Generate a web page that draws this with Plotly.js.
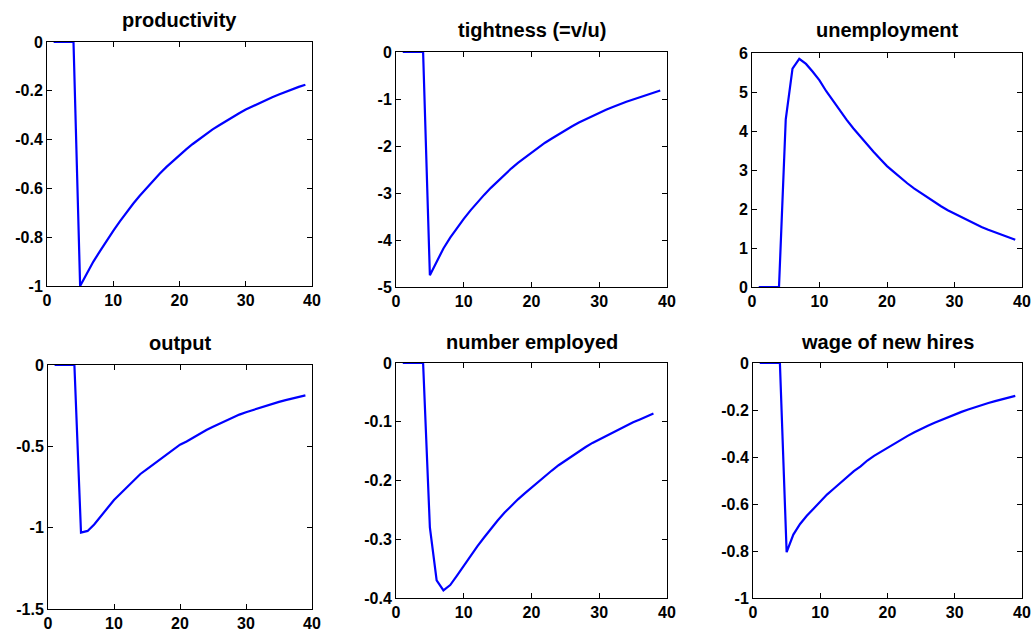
<!DOCTYPE html>
<html><head><meta charset="utf-8">
<script src="https://cdn.plot.ly/plotly-3.0.1.min.js"></script>
<style>html,body{margin:0;padding:0;background:#fff}#chart{width:1032px;height:633px}</style>
</head><body><div id="chart"></div>
<script>
const periods = [1,2,3,4,5,6,7,8,9,10,11,12,13,14,15,16,17,18,19,20,21,22,23,24,25,26,27,28,29,30,31,32,33,34,35,36,37,38,39];

const productivity = [0,0,0,0,-1.00,-0.95,-0.90,-0.857,-0.814,-0.774,-0.735,-0.698,-0.663,-0.630,-0.599,-0.569,-0.540,-0.513,-0.488,-0.463,-0.440,-0.418,-0.397,-0.377,-0.358,-0.341,-0.324,-0.307,-0.292,-0.277,-0.264,-0.250,-0.238,-0.226,-0.215,-0.204,-0.194,-0.184,-0.175];

const tightness = [0,0,0,0,-4.75,-4.45,-4.18,-3.95,-3.74,-3.55,-3.37,-3.20,-3.04,-2.89,-2.75,-2.61,-2.48,-2.36,-2.25,-2.14,-2.03,-1.93,-1.84,-1.75,-1.66,-1.58,-1.50,-1.43,-1.36,-1.29,-1.23,-1.17,-1.11,-1.06,-1.01,-0.96,-0.91,-0.87,-0.82];

const unemployment = [0,0,0,0,4.30,5.60,5.85,5.72,5.52,5.30,5.02,4.77,4.52,4.29,4.07,3.86,3.66,3.47,3.28,3.10,2.95,2.80,2.66,2.53,2.41,2.29,2.18,2.07,1.97,1.88,1.79,1.70,1.62,1.54,1.47,1.40,1.33,1.27,1.21];

const output = [0,0,0,0,-1.03,-1.02,-0.98,-0.93,-0.88,-0.83,-0.79,-0.75,-0.71,-0.67,-0.64,-0.61,-0.58,-0.55,-0.52,-0.49,-0.47,-0.445,-0.42,-0.40,-0.38,-0.36,-0.34,-0.325,-0.305,-0.29,-0.277,-0.263,-0.25,-0.238,-0.227,-0.216,-0.206,-0.196,-0.187];

const employed = [0,0,0,0,-0.28,-0.37,-0.387,-0.378,-0.362,-0.345,-0.328,-0.312,-0.297,-0.282,-0.268,-0.255,-0.243,-0.232,-0.222,-0.212,-0.202,-0.192,-0.183,-0.174,-0.166,-0.158,-0.151,-0.143,-0.136,-0.130,-0.124,-0.118,-0.112,-0.106,-0.101,-0.096,-0.091,-0.086];

const wageNewHires = [0,0,0,0,-0.805,-0.73,-0.685,-0.65,-0.62,-0.59,-0.56,-0.535,-0.51,-0.485,-0.46,-0.44,-0.415,-0.395,-0.378,-0.36,-0.342,-0.325,-0.31,-0.295,-0.28,-0.267,-0.254,-0.242,-0.23,-0.219,-0.208,-0.198,-0.188,-0.179,-0.17,-0.162,-0.154,-0.147,-0.14];

const titles = ["productivity","tightness (=v/u)","unemployment","output","number employed","wage of new hires"];
const series = [productivity, tightness, unemployment, output, employed, wageNewHires];

const xTickVals = [0,10,20,30,40];
const xTickText = ["0","10","20","30","40"];

const yTickVals = [
  [0,-0.2,-0.4,-0.6,-0.8,-1],
  [0,-1,-2,-3,-4,-5],
  [0,1,2,3,4,5,6],
  [0,-0.5,-1,-1.5],
  [0,-0.1,-0.2,-0.3,-0.4],
  [0,-0.2,-0.4,-0.6,-0.8,-1]
];
const yTickText = [
  ["0","-0.2","-0.4","-0.6","-0.8","-1"],
  ["0","-1","-2","-3","-4","-5"],
  ["0","1","2","3","4","5","6"],
  ["0","-0.5","-1","-1.5"],
  ["0","-0.1","-0.2","-0.3","-0.4"],
  ["0","-0.2","-0.4","-0.6","-0.8","-1"]
];
const yRanges = [[-1,0],[-5,0],[0,6],[-1.5,0],[-0.4,0],[-1,0]];

// layout geometry (pixels)
const W = 1032, H = 633;
const boxes = [
  {l:47, r:312, t:42, b:286, ty:20},
  {l:396, r:667, t:52, b:287, ty:30},
  {l:752, r:1022, t:53, b:287, ty:30},
  {l:48, r:312, t:365, b:609, ty:343},
  {l:396, r:667, t:363, b:598, ty:342},
  {l:753, r:1022, t:363, b:598, ty:342}
];

const tickFont = {family:"Liberation Sans, Arial, sans-serif", size:16, color:"#000", weight:"bold"};
const titleFont = {family:"Liberation Sans, Arial, sans-serif", size:20, color:"#000", weight:"bold"};

const data = [];
const layout = {
  width: W, height: H,
  margin: {l:0, r:0, t:0, b:0},
  paper_bgcolor: "#fff", plot_bgcolor: "#fff",
  showlegend: false,
  annotations: []
};

series.forEach((ys, i) => {
  const n = i === 0 ? "" : String(i + 1);
  const xs = periods.slice(0, ys.length);
  data.push({
    x: xs, y: ys, type: "scatter", mode: "lines",
    xaxis: "x" + n, yaxis: "y" + n,
    line: {color: "#0000ff", width: 2.2},
    hoverinfo: "skip"
  });
  const b = boxes[i];
  const common = {
    showline: true, linecolor: "#000", linewidth: 1, mirror: "ticks",
    ticks: "inside", ticklen: 5, tickwidth: 1, tickcolor: "#000",
    showgrid: false, zeroline: false, fixedrange: true,
    tickfont: tickFont, tickmode: "array"
  };
  layout["xaxis" + n] = Object.assign({}, common, {
    domain: [b.l / W, b.r / W], range: [0, 40],
    tickvals: xTickVals, ticktext: xTickText,
    anchor: "y" + n
  });
  layout["yaxis" + n] = Object.assign({}, common, {
    domain: [1 - b.b / H, 1 - b.t / H], range: yRanges[i],
    tickvals: yTickVals[i], ticktext: yTickText[i],
    anchor: "x" + n
  });
  layout.annotations.push({
    text: titles[i], xref: "paper", yref: "paper",
    x: ((b.l + b.r) / 2) / W, y: 1 - b.ty / H,
    xanchor: "center", yanchor: "middle", showarrow: false,
    font: titleFont
  });
});

Plotly.newPlot("chart", data, layout, {staticPlot: true, displayModeBar: false});
</script>
</body></html>
